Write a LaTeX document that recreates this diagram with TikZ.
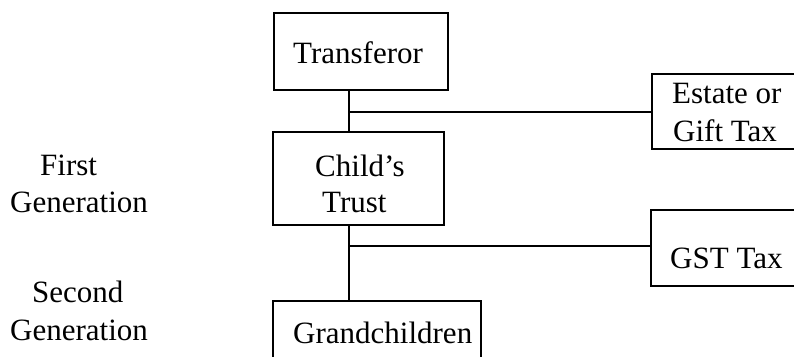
\documentclass[tikz,border=0pt]{standalone}
\usepackage{fontspec}
\setmainfont{Liberation Serif}
\begin{document}
\begin{tikzpicture}[x=1pt,y=-1pt,
  box/.style={draw,line width=1.7pt,rectangle,inner sep=0pt},
  conn/.style={line width=1.7pt},
  txt/.style={anchor=base west,inner sep=0pt,font=\fontsize{31}{36}\selectfont}]
\useasboundingbox (0,0) rectangle (794,356);
\clip (0,0) rectangle (794,356);
% boxes
\node[box,minimum width=174pt,minimum height=77pt] (trans) at (361,51.5) {};
\node[box,minimum width=171pt,minimum height=93pt] (child) at (358.5,178.5) {};
\node[box,minimum width=208pt,minimum height=78pt] (grand) at (377,340) {};
\node[box,minimum width=180pt,minimum height=75pt] (estate) at (742,111.5) {};
\node[box,minimum width=180pt,minimum height=76pt] (gst) at (741,248) {};
% texts
\node[txt] (ttrans) at (293,63) {Transferor};
\node[txt] (tchild1) at (315,176) {Child’s};
\node[txt] (tchild2) at (322,212) {Trust};
\node[txt] (tgrand) at (293,343) {Grandchildren};
\node[txt] (testate1) at (672,103) {Estate or};
\node[txt] (testate2) at (673,141) {Gift Tax};
\node[txt] (tgst) at (670,268) {GST Tax};
\node[txt] (first1) at (40,175) {First};
\node[txt] (first2) at (10,212) {Generation};
\node[txt] (second1) at (32,302) {Second};
\node[txt] (second2) at (10,340) {Generation};
% connectors
\coordinate (j1) at (349,112);
\coordinate (j2) at (349,246);
\draw[conn] (trans.south -| j1) -- (child.north -| j1);
\draw[conn] (j1) -- (estate.west |- j1);
\draw[conn] (child.south -| j2) -- (grand.north -| j2);
\draw[conn] (j2) -- (gst.west |- j2);
\end{tikzpicture}
\end{document}
